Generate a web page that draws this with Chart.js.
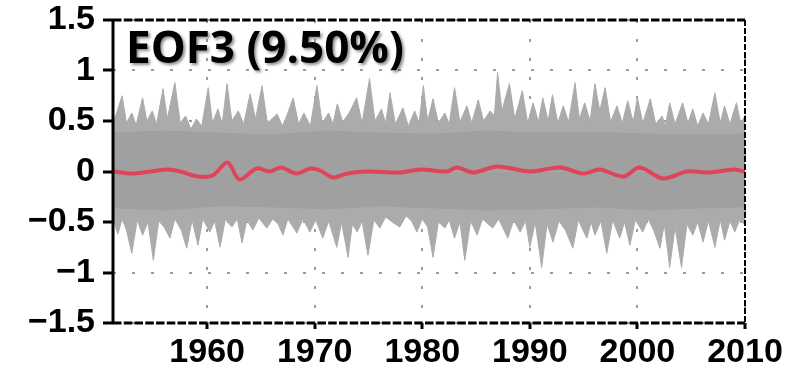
<!DOCTYPE html>
<html>
<head>
<meta charset="utf-8">
<title>EOF3</title>
<script src="https://cdn.jsdelivr.net/npm/chart.js@4.4.1/dist/chart.umd.min.js"></script>
<style>
body { margin: 0; background: #fff; }
#wrap { position: relative; width: 786px; height: 370px; }
#eofTitle {
    position: absolute; left: 126px; top: 24px;
    font-family: "Open Sans", sans-serif; font-weight: bold; font-size: 44px;
    line-height: 1; color: #000; white-space: nowrap;
    text-shadow: 2px 2px 3px rgba(0,0,0,0.45);
}
</style>
</head>
<body>
<div id="wrap">
    <canvas id="myChart" width="786" height="370"></canvas>
    <div id="eofTitle">EOF3 (9.50%)</div>
</div>
<script>
// axis ticks
let xTicks = [1960, 1970, 1980, 1990, 2000, 2010];
let yTicks = [-1.5, -1, -0.5, 0, 0.5, 1, 1.5];

// top edge of the grey ensemble (spikes)
let upperYears = [1951.25,1951.7,1952.1,1952.5,1953.0,1953.4,1954.0,1954.4,1954.9,1955.3,1955.9,1956.3,1957.0,1957.5,1958.0,1958.5,1959.0,1959.5,
    1960.1,1960.5,1961.0,1961.4,1961.85,1962.3,1962.9,1963.4,1964.0,1964.5,1965.1,1965.6,1966.5,1967.0,1967.4,1968.0,1968.5,1969.0,1969.6,
    1970.2,1970.7,1971.3,1971.7,1972.1,1972.6,1973.2,1973.9,1974.4,1975.1,1975.6,1976.2,1976.6,1977.0,1977.5,1978.2,1978.7,1979.3,1979.7,
    1980.1,1980.5,1981.0,1981.5,1982.1,1982.5,1983.0,1983.5,1984.15,1984.6,1985.2,1985.7,1986.3,1986.7,1987.0,1987.4,1988.1,1988.6,1989.3,1989.8,
    1990.3,1990.8,1991.2,1991.7,1992.1,1992.6,1993.1,1993.6,1994.2,1994.6,1995.1,1995.6,1996.05,1996.5,1997.0,1997.5,1998.1,1998.6,1999.1,1999.6,
    2000.0,2000.5,2001.2,2001.7,2002.3,2002.6,2003.0,2003.5,2004.2,2004.7,2005.15,2005.6,2006.1,2006.6,2007.2,2007.7,2008.1,2008.6,2009.2,2009.6,2010.0];
let upperValues = [0.47,0.62,0.75,0.48,0.58,0.46,0.73,0.50,0.60,0.47,0.82,0.52,0.88,0.48,0.55,0.42,0.52,0.45,
    0.83,0.48,0.62,0.47,0.87,0.50,0.60,0.47,0.77,0.52,0.85,0.48,0.57,0.45,0.55,0.73,0.47,0.58,0.45,
    0.85,0.48,0.58,0.47,0.67,0.49,0.58,0.73,0.48,0.92,0.50,0.62,0.48,0.78,0.47,0.63,0.45,0.60,0.48,
    0.85,0.50,0.72,0.48,0.58,0.47,0.83,0.49,0.65,0.48,0.71,0.50,0.60,0.55,0.98,0.60,0.87,0.52,0.80,0.48,
    0.68,0.49,0.73,0.50,0.76,0.48,0.65,0.49,0.88,0.52,0.68,0.50,0.87,0.60,0.83,0.49,0.65,0.48,0.70,0.49,
    0.73,0.48,0.72,0.47,0.55,0.45,0.68,0.47,0.68,0.48,0.62,0.45,0.58,0.47,0.78,0.48,0.65,0.47,0.68,0.48,0.55];

// bottom edge of the grey ensemble
let lowerYears = [1951.25,1951.7,1952.1,1952.5,1953.0,1953.5,1954.0,1954.5,1955.0,1955.5,1956.0,1956.55,1957.0,1957.6,1958.1,1958.6,1959.15,1959.6,
    1960.25,1960.7,1961.2,1961.7,1962.3,1962.8,1963.25,1963.7,1964.25,1964.8,1965.55,1966.1,1966.6,1967.05,1967.5,1968.35,1968.9,1969.55,
    1970.1,1970.75,1971.3,1972.05,1972.5,1973.1,1973.5,1973.95,1974.4,1974.95,1975.5,1976.05,1976.6,1977.2,1977.9,1978.5,1979.0,1979.5,
    1980.0,1980.5,1981.0,1981.5,1982.1,1982.5,1983.0,1983.5,1983.95,1984.5,1985.1,1985.6,1986.1,1986.55,1987.1,1987.95,1988.5,1989.1,1989.6,
    1990.0,1990.5,1991.1,1991.6,1992.15,1992.7,1993.3,1994.0,1994.5,1995.3,1995.7,1996.05,1996.6,1997.15,1997.7,1998.35,1998.8,1999.3,1999.8,
    2000.5,2001.0,2001.5,2002.1,2002.5,2003.0,2003.5,2004.1,2004.6,2005.15,2005.6,2006.1,2006.6,2007.2,2007.7,2008.1,2008.6,2009.05,2009.5,2010.0];
let lowerValues = [-0.47,-0.62,-0.47,-0.58,-0.81,-0.48,-0.63,-0.50,-0.88,-0.49,-0.55,-0.66,-0.47,-0.58,-0.76,-0.48,-0.73,-0.47,
    -0.60,-0.49,-0.75,-0.47,-0.55,-0.47,-0.71,-0.48,-0.58,-0.46,-0.56,-0.47,-0.52,-0.63,-0.47,-0.61,-0.47,-0.60,
    -0.48,-0.66,-0.49,-0.75,-0.50,-0.85,-0.52,-0.60,-0.49,-0.83,-0.48,-0.56,-0.45,-0.50,-0.55,-0.44,-0.49,-0.60,
    -0.47,-0.55,-0.85,-0.50,-0.56,-0.48,-0.66,-0.50,-0.88,-0.49,-0.63,-0.47,-0.52,-0.56,-0.47,-0.66,-0.48,-0.60,-0.49,
    -0.75,-0.50,-0.95,-0.52,-0.70,-0.49,-0.58,-0.76,-0.48,-0.66,-0.50,-0.63,-0.49,-0.81,-0.48,-0.66,-0.50,-0.73,-0.48,
    -0.60,-0.47,-0.58,-0.76,-0.52,-0.95,-0.55,-0.95,-0.52,-0.63,-0.50,-0.70,-0.49,-0.75,-0.48,-0.68,-0.49,-0.60,-0.48,-0.53];

// dense core of the ensemble
let coreYears = [1951.25,1956,1961,1966,1971,1976,1981,1986,1991,1996,2001,2006,2010];
let coreUpper = [0.38,0.40,0.38,0.36,0.40,0.38,0.37,0.40,0.38,0.39,0.37,0.36,0.37];
let coreLower = [-0.36,-0.38,-0.34,-0.35,-0.37,-0.34,-0.36,-0.38,-0.37,-0.35,-0.38,-0.36,-0.35];

// ensemble mean (red)
let meanYears = [1951.25,1953.1,1956.3,1957.5,1959.1,1960.5,1961.9,1963.0,1964.6,1965.8,1966.9,1968.3,1969.6,1970.5,1971.7,1973.0,1974.9,1977.9,
    1979.8,1982.3,1983.2,1984.7,1987.0,1990.0,1992.8,1995.0,1996.5,1998.7,2000.2,2002.4,2004.6,2006.7,2008.9,2010];
let meanValues = [0,-0.02,0.02,0,-0.05,-0.04,0.09,-0.08,0.03,0,0.04,-0.02,0.03,0.01,-0.06,-0.02,0,-0.01,
    0.02,0,0.04,-0.01,0.05,0,0.04,-0.02,0.02,-0.05,0.04,-0.07,0,-0.01,0.02,0];

function pts(xs, ys) {
    return xs.map((x, k) => ({x: x, y: ys[k]}));
}

function band(xs, ys, col) {
    return {
        data: pts(xs, ys),
        borderColor: col,
        backgroundColor: col,
        borderWidth: 1,
        pointRadius: 0,
        tension: 0,
        fill: 'origin'
    };
}

// black frame round the plot
const frame = {
    id: 'frame',
    afterDatasetsDraw(chart) {
        const a = chart.chartArea;
        const ctx = chart.ctx;
        ctx.save();
        ctx.strokeStyle = '#000';
        ctx.lineWidth = 3;
        ctx.beginPath();
        ctx.moveTo(a.left, a.top - 1);
        ctx.lineTo(a.left, a.bottom + 1);
        ctx.stroke();
        ctx.setLineDash([8.5, 2.26]);
        ctx.beginPath();
        ctx.moveTo(a.left, a.top);
        ctx.lineTo(a.right, a.top);
        ctx.moveTo(a.left, a.bottom);
        ctx.lineTo(a.right, a.bottom);
        ctx.stroke();
        ctx.lineWidth = 2;
        ctx.setLineDash([6, 2]);
        ctx.beginPath();
        ctx.moveTo(a.right, a.top);
        ctx.lineTo(a.right, a.bottom);
        ctx.stroke();
        ctx.restore();
    }
};

let tickFont = { family: "'Liberation Sans', Arial, sans-serif", size: 34, weight: 'bold' };

function noPad(s) {
    s.paddingTop = 0;
    s.paddingBottom = 0;
    s.paddingLeft = 0;
    s.paddingRight = 0;
}

window.onload = function () {
    var ctx = document.getElementById('myChart').getContext('2d');
    new Chart(ctx, {
        type: 'line',
        data: {
            datasets: [
                {
                    data: pts(meanYears, meanValues),
                    borderColor: 'rgba(228,58,82,0.9)',
                    borderWidth: 4,
                    pointRadius: 0,
                    tension: 0.3,
                    fill: false
                },
                band(coreYears, coreUpper, '#a0a0a0'),
                band(coreYears, coreLower, '#a0a0a0'),
                band(upperYears, upperValues, '#ababab'),
                band(lowerYears, lowerValues, '#ababab')
            ]
        },
        plugins: [frame],
        options: {
            responsive: false,
            animation: false,
            devicePixelRatio: 1,
            layout: { padding: { top: 20, right: 41, left: 0, bottom: 0 } },
            plugins: { legend: { display: false }, tooltip: { enabled: false } },
            scales: {
                x: {
                    type: 'linear',
                    min: 1951.25,
                    max: 2010,
                    afterBuildTicks: s => { s.ticks = xTicks.map(v => ({value: v})); },
                    afterFit: s => { s.height = 47; noPad(s); },
                    grid: { color: '#9c9c9c', lineWidth: 2, tickLength: 6, tickColor: '#000', tickWidth: 3 },
                    border: { display: false, dash: [3, 16] },
                    ticks: {
                        color: '#000',
                        padding: 3,
                        maxRotation: 0,
                        autoSkip: false,
                        font: tickFont,
                        callback: v => String(v)
                    }
                },
                y: {
                    min: -1.5,
                    max: 1.5,
                    afterBuildTicks: s => { s.ticks = yTicks.map(v => ({value: v})); },
                    afterFit: s => { s.width = 113; noPad(s); },
                    grid: { color: '#9c9c9c', lineWidth: 2, tickLength: 10, tickColor: '#000', tickWidth: 3 },
                    border: { display: false, dash: [3, 16] },
                    ticks: {
                        color: '#000',
                        padding: 8,
                        font: tickFont,
                        callback: v => v < 0 ? '\u2212' + Math.abs(v) : String(v)
                    }
                }
            }
        }
    });
};
</script>
</body>
</html>
